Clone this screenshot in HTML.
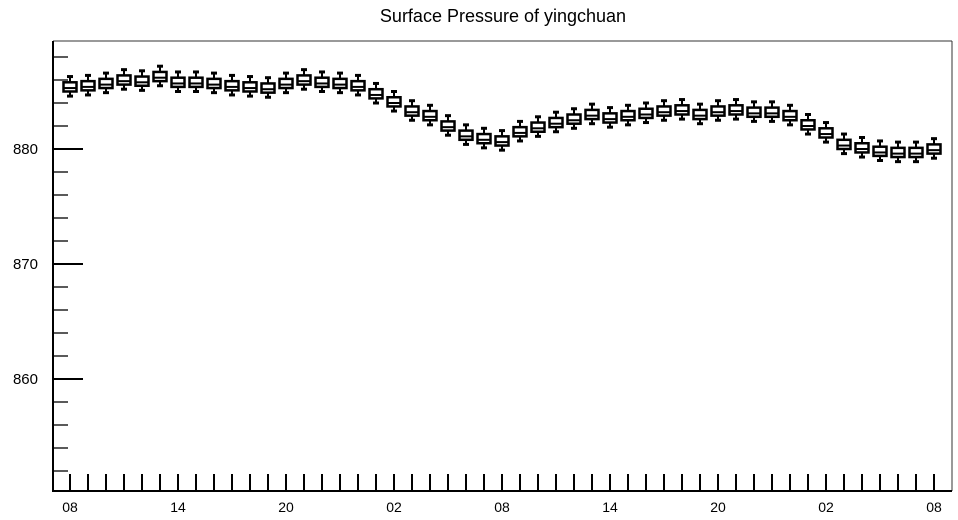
<!DOCTYPE html>
<html><head><meta charset="utf-8"><style>
html,body{margin:0;padding:0;background:#fff;}
svg{display:block;font-family:"Liberation Sans",sans-serif;}
</style></head><body>
<svg id="chart" width="958" height="520">
<text x="503" y="22" text-anchor="middle" font-size="18">Surface Pressure of yingchuan</text>
<line x1="53" y1="41" x2="952" y2="41" stroke="#333" stroke-width="1"/>
<line x1="952" y1="41" x2="952" y2="491" stroke="#333" stroke-width="1"/>
<g id="axes"></g>
<g id="boxes"></g>
</svg>
<script>
const hourLabels = ["08","14","20","02","08","14","20","02","08"];
const yTicks = [860,870,880];
const med = [885.3,885.4,885.6,885.9,885.8,886.2,885.7,885.7,885.6,885.4,885.3,885.2,885.6,885.9,885.7,885.6,885.4,884.7,884.0,883.2,882.8,881.9,881.1,880.8,880.6,881.4,881.8,882.2,882.5,882.9,882.6,882.8,883.0,883.2,883.3,882.9,883.2,883.3,883.1,883.1,882.8,882.0,881.3,880.3,880.0,879.7,879.6,879.6,879.9];
const q1 = [885.0,885.1,885.3,885.6,885.5,885.9,885.4,885.4,885.3,885.1,885.0,884.9,885.3,885.6,885.4,885.3,885.1,884.4,883.7,882.9,882.5,881.6,880.8,880.5,880.3,881.1,881.5,881.9,882.2,882.6,882.3,882.5,882.7,882.9,883.0,882.6,882.9,883.0,882.8,882.8,882.5,881.7,881.0,880.0,879.7,879.4,879.3,879.3,879.6];
const q3 = [885.8,885.9,886.1,886.4,886.3,886.7,886.2,886.2,886.1,885.9,885.8,885.7,886.1,886.4,886.2,886.1,885.9,885.2,884.5,883.7,883.3,882.4,881.6,881.3,881.1,881.9,882.3,882.7,883.0,883.4,883.1,883.3,883.5,883.7,883.8,883.4,883.7,883.8,883.6,883.6,883.3,882.5,881.8,880.8,880.5,880.2,880.1,880.1,880.4];
const lo = [884.6,884.7,884.9,885.2,885.1,885.5,885.0,885.0,884.9,884.7,884.6,884.5,884.9,885.2,885.0,884.9,884.7,884.0,883.3,882.5,882.1,881.2,880.4,880.1,879.9,880.7,881.1,881.5,881.8,882.2,881.9,882.1,882.3,882.5,882.6,882.2,882.5,882.6,882.4,882.4,882.1,881.3,880.6,879.6,879.3,879.0,878.9,878.9,879.2];
const hi = [886.3,886.4,886.6,886.9,886.8,887.2,886.7,886.7,886.6,886.4,886.3,886.2,886.6,886.9,886.7,886.6,886.4,885.7,885.0,884.2,883.8,882.9,882.1,881.8,881.6,882.4,882.8,883.2,883.5,883.9,883.6,883.8,884.0,884.2,884.3,883.9,884.2,884.3,884.1,884.1,883.8,883.0,882.3,881.3,881.0,880.7,880.6,880.6,880.9];

const NS="http://www.w3.org/2000/svg";
const X0=53,X1=952,Y0=41,Y1=491;
function xs(i){return 70+(i)*(864/48);}
function ys(v){return 149-(v-880)*11.5;}
function mk(tag,attrs,parent){const e=document.createElementNS(NS,tag);for(const k in attrs)e.setAttribute(k,attrs[k]);parent.appendChild(e);return e;}
const axes=document.getElementById('axes');
const boxes=document.getElementById('boxes');

let ax=mk('line',{x1:X0,y1:Y0,x2:X0,y2:Y1+1,stroke:'#000','stroke-width':2},axes);


let bx=mk('line',{x1:X0-1,y1:Y1,x2:X1,y2:Y1,stroke:'#000','stroke-width':2},axes);



// y minor ticks every 2
for(let v=852;v<=888;v+=2){
  const major=yTicks.indexOf(v)>=0;
  const t=mk('line',{x1:X0,y1:ys(v),x2:X0+(major?30:15),y2:ys(v),stroke:'#000','stroke-width':major?2:1.3},axes);
  
  
}
yTicks.forEach(v=>{
  const t=mk('text',{x:38,y:ys(v)+5,'text-anchor':'end','font-size':15},axes);
  t.textContent=v;
  
  
});
for(let i=0;i<med.length;i++){
  const t=mk('line',{x1:xs(i),y1:Y1,x2:xs(i),y2:Y1-17,stroke:'#000','stroke-width':2},axes);
  
  
}
hourLabels.forEach((l,k)=>{
  const t=mk('text',{x:xs(k*6),y:512,'text-anchor':'middle','font-size':14},axes);
  t.textContent=l;
  
  
});

for(let i=0;i<med.length;i++){
  const g=mk('g',{},boxes);
  
  
  const cx=xs(i);
  mk('line',{x1:cx,y1:ys(hi[i]),x2:cx,y2:ys(q3[i]),stroke:'#000','stroke-width':2},g);
  mk('line',{x1:cx,y1:ys(q1[i]),x2:cx,y2:ys(lo[i]),stroke:'#000','stroke-width':2},g);
  mk('line',{x1:cx-3,y1:ys(hi[i]),x2:cx+3,y2:ys(hi[i]),stroke:'#000','stroke-width':3},g);
  mk('line',{x1:cx-3,y1:ys(lo[i]),x2:cx+3,y2:ys(lo[i]),stroke:'#000','stroke-width':3},g);
  mk('rect',{x:cx-6.5,y:ys(q3[i]),width:13,height:ys(q1[i])-ys(q3[i]),fill:'#fff',stroke:'#000','stroke-width':2.5},g);
  mk('line',{x1:cx-6.5,y1:ys(med[i]),x2:cx+6.5,y2:ys(med[i]),stroke:'#000','stroke-width':2},g);
}
</script>
</body></html>
